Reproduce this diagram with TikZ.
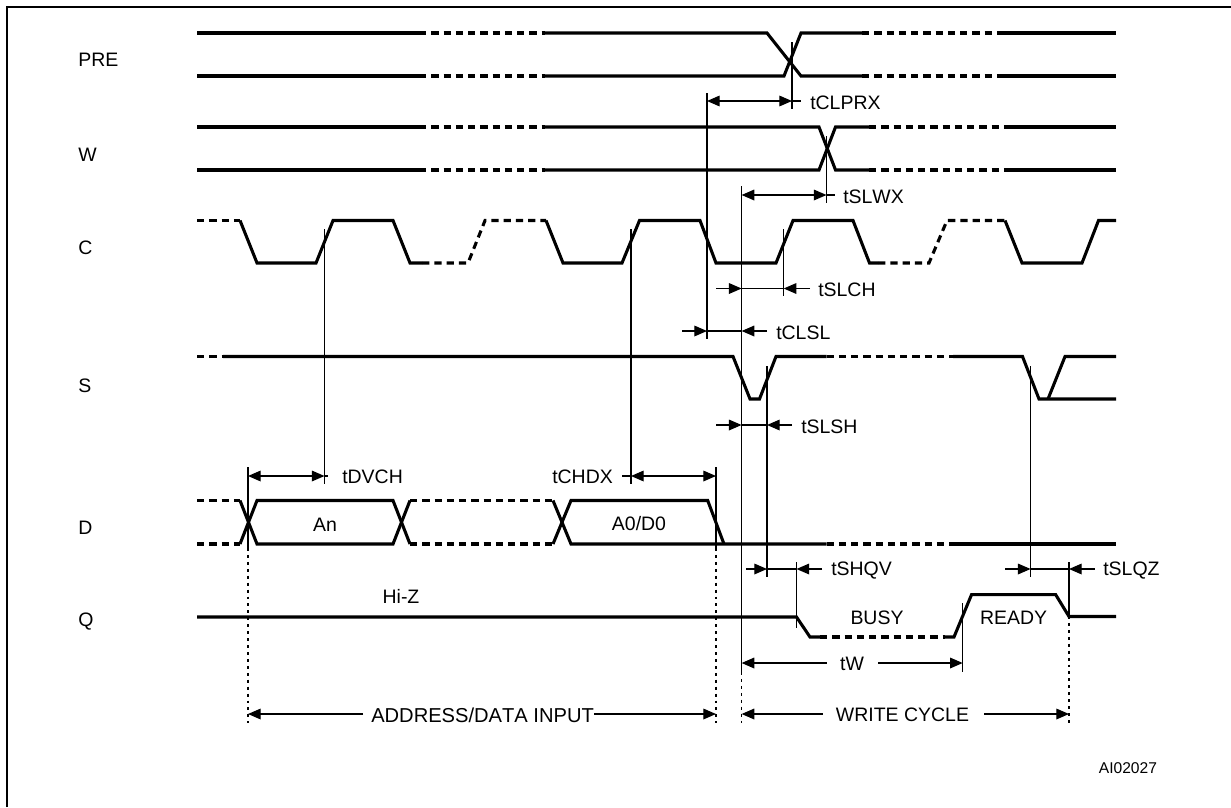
\documentclass[tikz,border=0pt]{standalone}
\usepackage{fontspec}
\setmainfont[Kerning=Off]{Liberation Sans}
\usetikzlibrary{arrows.meta}

\begin{document}
\begin{tikzpicture}[
  x=0.75pt,
  y=-0.75pt,
  font=\fontsize{14.6pt}{16pt}\selectfont,
  wave/.style={
    line width=2.3pt,
    draw=black
  },
  wavedash/.style={
    wave,
    dash pattern=on 5.5pt off 3.7pt
  },
  repere/.style={
    line width=0.9pt,
    draw=black
  },
  pointille/.style={
    repere,
    dash pattern=on 2.2pt off 3pt
  },
  fleche/.style={
    -{Triangle[length=9.5pt, width=8pt]},
    line width=0.9pt,
    draw=black
  },
  doublefleche/.style={
    {Triangle[length=9.5pt, width=8pt]}-{Triangle[length=9.5pt, width=8pt]},
    line width=0.9pt,
    draw=black
  },
  signal/.style={
    anchor=west,
    inner sep=0pt
  },
  etiquette/.style={
    inner sep=0pt
  }
]
  \useasboundingbox (0,0) rectangle (1231,807);
  \draw[line width=1.7pt] (7,807) -- (7,7) -- (1231,7);

  \foreach \n/\y/\lab in {nPRE/60/PRE, nW/155/W, nC/248/C, nS/386/S, nD/528/D, nQ/622/Q} {
    \node[signal] (\n) at (78,\y) {\lab};
  }

  % PRE
  \draw[wave] (197,33) -- (419,33);
  \draw[wavedash] (419,33) -- (545,33);
  \draw[wave] (545,33) -- (767,33) -- (801,76) -- (862,76);
  \draw[wave] (197,76) -- (419,76);
  \draw[wavedash] (419,76) -- (545,76);
  \draw[wave] (545,76) -- (784,76) -- (801,33) -- (862,33);
  \foreach \y in {33,76} {
    \draw[wavedash] (862,\y) -- (1004,\y);
    \draw[wave] (1004,\y) -- (1116,\y);
  }

  % W
  \draw[wave] (197,127) -- (419,127);
  \draw[wavedash] (419,127) -- (545,127);
  \draw[wave] (545,127) -- (819,127) -- (835.5,170) -- (869,170);
  \draw[wave] (197,170) -- (419,170);
  \draw[wavedash] (419,170) -- (545,170);
  \draw[wave] (545,170) -- (819,170) -- (835.5,127) -- (869,127);
  \foreach \y in {127,170} {
    \draw[wavedash] (869,\y) -- (1004,\y);
    \draw[wave] (1004,\y) -- (1116,\y);
  }

  % C
  \draw[wavedash] (197,220.5) -- (240,220.5);
  \draw[wave] (240,220.5) -- (257,263) -- (316,263) -- (333,220.5) -- (393,220.5) -- (410,263) -- (422,263);
  \draw[wavedash] (422,263) -- (468,263) -- (485,220.5) -- (546,220.5);
  \draw[wave] (546,220.5) -- (563,263) -- (622,263) -- (639.5,220.5) -- (700,220.5) -- (716,263) -- (776,263)
    -- (793,220.5) -- (853,220.5) -- (869.5,263) -- (878,263);
  \draw[wavedash] (878,263) -- (929,263) -- (947,220.5) -- (1005,220.5);
  \draw[wave] (1005,220.5) -- (1022,263) -- (1082,263) -- (1098.5,220.5) -- (1116,220.5);

  % S
  \draw[wavedash] (197,356.5) -- (223,356.5);
  \draw[wave] (223,356.5) -- (733,356.5) -- (750,399) -- (759.5,399) -- (776,356.5) -- (826.5,356.5);
  \draw[wavedash] (826.5,356.5) -- (953,356.5);
  \draw[wave] (953,356.5) -- (1022.5,356.5) -- (1039,399) -- (1116,399);
  \draw[wave] (1048,399) -- (1065,356.5) -- (1116,356.5);

  % D
  \foreach \y in {500.5,544} {
    \draw[wavedash] (197,\y) -- (240,\y);
    \draw[wavedash] (410,\y) -- (553,\y);
  }
  \draw[wave] (240,500.5) -- (257,544) -- (393,544) -- (410,500.5);
  \draw[wave] (240,544) -- (257,500.5) -- (393,500.5) -- (410,544);
  \draw[wave] (553,500.5) -- (571,544) -- (826.5,544);
  \draw[wave] (553,544) -- (571,500.5) -- (707.7,500.5) -- (724,544);
  \draw[wavedash] (826.5,544) -- (953,544);
  \draw[wave] (953,544) -- (1116,544);

  % Q
  \draw[wave] (197,617) -- (796.5,617) -- (810,637) -- (820,637);
  \draw[wavedash] (820,637) -- (945,637);
  \draw[wave] (945,637) -- (954,637) -- (971.5,594.7) -- (1055.7,594.7) -- (1069,616.5) -- (1116,616.5);

  \foreach \x/\ya/\yb in {324.5/229/484, 631/229/484, 707/93/339, 792/42/109, 826.5/136/203,
    783.7/229/296, 767/366/577, 1030.6/366/577, 796.5/562/628, 962.7/603/672,
    248/467/548, 716/467/548, 741.6/186/672, 1069/562/616} {
    \draw[repere] (\x,\ya) -- (\x,\yb);
  }
  \foreach \x/\ya in {248/548, 716/548, 741.6/672, 1069/616} {
    \draw[pointille] (\x,\ya) -- (\x,723);
  }

  % cotes vers l'exterieur
  \foreach \n/\y/\a/\b/\c in {dvch/476/248/324.5/328, chdx/476/631/716/716, clprx/101/707/792/801, slwx/195/741.6/826.5/835} {
    \coordinate (\n a) at (\a,\y);
    \coordinate (\n b) at (\b,\y);
    \coordinate (\n c) at (\c,\y);
    \draw[doublefleche] (\n a) -- (\n b);
    \draw[repere] (\n b) -- (\n c);
  }
  \coordinate (chdxd) at (622,476);
  \draw[repere] (chdxd) -- (chdxa);

  % cotes vers l'interieur
  \foreach \n/\y/\a/\b/\c/\d in {slch/288.5/716/741.6/783.7/810, clsl/331/682/707/741.6/767,
    slsh/425/716/741.6/767/792, shqv/569/746/767/796.5/822, slqz/569/1005/1030.6/1069/1094.6} {
    \coordinate (\n a) at (\a,\y);
    \coordinate (\n b) at (\b,\y);
    \coordinate (\n c) at (\c,\y);
    \coordinate (\n d) at (\d,\y);
    \draw[fleche] (\n a) -- (\n b);
    \draw[fleche] (\n d) -- (\n c);
    \draw[repere] (\n b) -- (\n c);
  }

  \foreach \n/\x/\y/\lab in {lDVCH/342/477/tDVCH, lCHDX/552/477/tCHDX, lCLPRX/810/103/tCLPRX, lSLWX/843/197/tSLWX,
    lSLCH/818/290/tSLCH, lCLSL/776/333/tCLSL, lSLSH/801/427/tSLSH, lSHQV/831/571/tSHQV, lSLQZ/1103/571/tSLQZ} {
    \node[signal] (\n) at (\x,\y) {\lab};
  }

  \foreach \n/\x/\y/\lab in {lAn/325/525/An, lAD/639/524/A0\slash D0, lHiZ/401/596/Hi-Z, lBUSY/877/618/BUSY, lREADY/1013.6/618/READY} {
    \node[etiquette] (\n) at (\x,\y) {\lab};
  }

  \node[etiquette] (ltW) at (852,664) {tW};
  \coordinate (twa) at (741.6,663);
  \coordinate (twb) at (826.5,663);
  \coordinate (twc) at (878,663);
  \coordinate (twd) at (962.7,663);
  \draw[fleche] (twb) -- (twa);
  \draw[fleche] (twc) -- (twd);

  \node[signal, font=\fontsize{15.1pt}{16pt}\selectfont] (lADDR) at (371,715) {ADDRESS/DATA INPUT};
  \coordinate (adda) at (248,714);
  \coordinate (addb) at (363,714);
  \coordinate (addc) at (594,714);
  \coordinate (addd) at (716,714);
  \draw[fleche] (addb) -- (adda);
  \draw[fleche] (addc) -- (addd);

  \node[etiquette] (lWRITE) at (902.5,715) {WRITE CYCLE};
  \coordinate (wra) at (741.6,714);
  \coordinate (wrb) at (822.6,714);
  \coordinate (wrc) at (984,714);
  \coordinate (wrd) at (1069,714);
  \draw[fleche] (wrb) -- (wra);
  \draw[fleche] (wrc) -- (wrd);

  \node[signal, font=\fontsize{11.7pt}{13pt}\selectfont] (lref) at (1098.6,768) {AI02027};
\end{tikzpicture}
\end{document}
